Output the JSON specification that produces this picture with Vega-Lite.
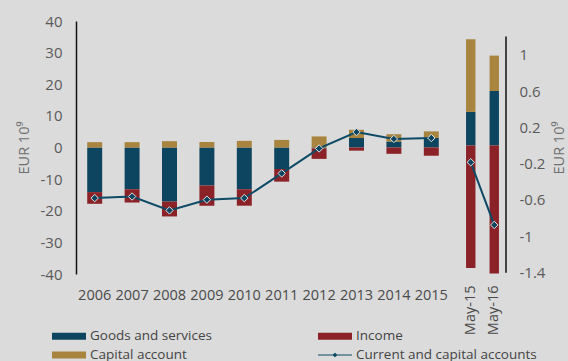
{
  "$schema": "https://vega.github.io/schema/vega-lite/v6.json",
  "background": "#dbdbdb",
  "padding": {"left": 16, "top": 14, "right": 5, "bottom": 0},
  "datasets": {
    "bars_left": [
      {"period": "2006", "series": "Goods and services", "ord": 0, "value": -14.1},
      {"period": "2006", "series": "Income", "ord": 1, "value": -3.7},
      {"period": "2006", "series": "Capital account", "ord": 2, "value": 1.7},
      {"period": "2007", "series": "Goods and services", "ord": 0, "value": -13.2},
      {"period": "2007", "series": "Income", "ord": 1, "value": -4.2},
      {"period": "2007", "series": "Capital account", "ord": 2, "value": 1.7},
      {"period": "2008", "series": "Goods and services", "ord": 0, "value": -17.1},
      {"period": "2008", "series": "Income", "ord": 1, "value": -4.7},
      {"period": "2008", "series": "Capital account", "ord": 2, "value": 2.0},
      {"period": "2009", "series": "Goods and services", "ord": 0, "value": -12.0},
      {"period": "2009", "series": "Income", "ord": 1, "value": -6.4},
      {"period": "2009", "series": "Capital account", "ord": 2, "value": 1.7},
      {"period": "2010", "series": "Goods and services", "ord": 0, "value": -13.2},
      {"period": "2010", "series": "Income", "ord": 1, "value": -5.2},
      {"period": "2010", "series": "Capital account", "ord": 2, "value": 2.1},
      {"period": "2011", "series": "Goods and services", "ord": 0, "value": -6.8},
      {"period": "2011", "series": "Income", "ord": 1, "value": -4.0},
      {"period": "2011", "series": "Capital account", "ord": 2, "value": 2.4},
      {"period": "2012", "series": "Goods and services", "ord": 0, "value": -0.3},
      {"period": "2012", "series": "Income", "ord": 1, "value": -3.3},
      {"period": "2012", "series": "Capital account", "ord": 2, "value": 3.5},
      {"period": "2013", "series": "Goods and services", "ord": 0, "value": 3.0},
      {"period": "2013", "series": "Income", "ord": 1, "value": -1.0},
      {"period": "2013", "series": "Capital account", "ord": 2, "value": 2.6},
      {"period": "2014", "series": "Goods and services", "ord": 0, "value": 1.9},
      {"period": "2014", "series": "Income", "ord": 1, "value": -2.0},
      {"period": "2014", "series": "Capital account", "ord": 2, "value": 2.3},
      {"period": "2015", "series": "Goods and services", "ord": 0, "value": 3.0},
      {"period": "2015", "series": "Income", "ord": 1, "value": -2.6},
      {"period": "2015", "series": "Capital account", "ord": 2, "value": 2.1}
    ],
    "line_left": [
      {"period": "2006", "value": -16.0},
      {"period": "2007", "value": -15.5},
      {"period": "2008", "value": -19.9},
      {"period": "2009", "value": -16.5},
      {"period": "2010", "value": -16.0},
      {"period": "2011", "value": -8.2},
      {"period": "2012", "value": -0.3},
      {"period": "2013", "value": 4.9},
      {"period": "2014", "value": 2.7},
      {"period": "2015", "value": 3.0}
    ],
    "bars_right": [
      {"period": "May-15", "series": "Goods and services", "ord": 0, "value": 0.37},
      {"period": "May-15", "series": "Income", "ord": 1, "value": -1.35},
      {"period": "May-15", "series": "Capital account", "ord": 2, "value": 0.80},
      {"period": "May-16", "series": "Goods and services", "ord": 0, "value": 0.60},
      {"period": "May-16", "series": "Income", "ord": 1, "value": -1.41},
      {"period": "May-16", "series": "Capital account", "ord": 2, "value": 0.39}
    ],
    "line_right": [
      {"period": "May-15", "value": -0.185},
      {"period": "May-16", "value": -0.875}
    ],
    "right_axis_line": [
      {"lo": -1.4, "hi": 1.2}
    ]
  },
  "config": {
    "view": {"stroke": null},
    "font": "Open Sans",
    "axis": {"labelFont": "Open Sans", "titleFont": "Open Sans", "grid": false, "ticks": false, "labelOverlap": false},
    "legend": {
      "orient": "none",
      "legendX": -14,
      "legendY": 308,
      "direction": "horizontal",
      "columns": 2,
      "columnPadding": 105,
      "rowPadding": 5,
      "symbolSize": 196,
      "symbolStrokeWidth": 0,
      "symbolOpacity": 1,
      "labelFont": "Open Sans",
      "labelFontSize": 13.5,
      "labelColor": "#444444",
      "labelOffset": 14,
      "labelLimit": 300
    }
  },
  "spacing": 9,
  "resolve": {"scale": {"y": "independent", "x": "independent", "color": "shared"}},
  "hconcat": [
    {
      "width": 374,
      "height": 253,
      "layer": [
        {
          "data": {"name": "bars_left"},
          "mark": {"type": "bar"},
          "encoding": {
            "x": {"field": "period", "type": "ordinal", "scale": {"paddingInner": 0.6, "paddingOuter": 0.3},
              "axis": {"title": null, "labelAngle": 0, "domain": false, "labelPadding": 14, "labelFontSize": 14.5, "labelColor": "#4a4a4a"}},
            "y": {"field": "value", "type": "quantitative", "stack": "zero", "scale": {"domain": [-40, 40], "nice": false},
              "axis": {"title": "EUR 10⁹", "values": [-40, -30, -20, -10, 0, 10, 20, 30, 40], "tickCount": 12, "labelExpr": "'' + datum.value",
                "labelOverlap": false, "domainColor": "#111111", "domainWidth": 1.5, "labelPadding": 14, "labelFontSize": 15, "labelColor": "#5a5a5a",
                "titleFontSize": 14.5, "titleFontWeight": "normal", "titleColor": "#707070", "titlePadding": 9}},
            "color": {"field": "series", "type": "nominal",
              "scale": {"domain": ["Goods and services", "Income", "Capital account", "Current and capital accounts"],
                "range": ["#0d4560", "#8b2227", "#a8843f", "#0d4a66"]},
              "legend": {"title": null,
                "encode": {"symbols": {"update": {"shape": {"signal": "datum.value === 'Current and capital accounts' ? 'M-2.43,-0.08H-0.3L0,-0.32L0.3,-0.08H2.43V0.08H0.3L0,0.32L-0.3,0.08H-2.43Z' : 'M-2.43,-0.5H2.43V0.5H-2.43Z'"}}}}}},
            "order": {"field": "ord", "type": "quantitative"}
          }
        },
        {
          "mark": {"type": "rule", "color": "#1a1a1a", "strokeWidth": 1.5},
          "encoding": {"y": {"datum": 0}}
        },
        {
          "data": {"name": "line_left"},
          "mark": {"type": "line", "color": "#0d4a66", "strokeWidth": 2,
            "point": {"shape": "diamond", "size": 55, "filled": true, "fill": "#0d4560", "stroke": "#e4e4e4", "strokeWidth": 1}},
          "encoding": {
            "x": {"field": "period", "type": "ordinal"},
            "y": {"field": "value", "type": "quantitative"}
          }
        }
      ]
    },
    {
      "width": 47,
      "height": 253,
      "layer": [
        {
          "data": {"name": "bars_right"},
          "mark": {"type": "bar"},
          "encoding": {
            "x": {"field": "period", "type": "ordinal", "scale": {"paddingInner": 0.6, "paddingOuter": 0.3},
              "axis": {"title": null, "labelAngle": -90, "domain": false, "labelPadding": 11, "labelFontSize": 14.5, "labelColor": "#4a4a4a"}},
            "y": {"field": "value", "type": "quantitative", "stack": "zero", "scale": {"domain": [-1.415, 1.371], "nice": false, "zero": false},
              "axis": {"orient": "right", "title": "EUR 10⁹", "values": [-1.4, -1, -0.6, -0.2, 0.2, 0.6, 1], "tickCount": 10, "labelExpr": "'' + datum.value",
                "domain": false, "labelPadding": 13, "labelFontSize": 15, "labelColor": "#5a5a5a",
                "titleFontSize": 14.5, "titleFontWeight": "normal", "titleColor": "#707070", "titlePadding": 8, "titleAngle": 270, "titleBaseline": "top"}},
            "color": {"field": "series", "type": "nominal"},
            "order": {"field": "ord", "type": "quantitative"}
          }
        },
        {
          "mark": {"type": "rule", "color": "#1a1a1a", "strokeWidth": 1.5},
          "encoding": {"y": {"datum": 0}}
        },
        {
          "data": {"name": "right_axis_line"},
          "mark": {"type": "rule", "color": "#111111", "strokeWidth": 1.5},
          "encoding": {
            "x": {"value": "width"},
            "y": {"field": "lo", "type": "quantitative"},
            "y2": {"field": "hi"}
          }
        },
        {
          "data": {"name": "line_right"},
          "mark": {"type": "line", "color": "#0d4a66", "strokeWidth": 2,
            "point": {"shape": "diamond", "size": 55, "filled": true, "fill": "#0d4560", "stroke": "#e4e4e4", "strokeWidth": 1}},
          "encoding": {
            "x": {"field": "period", "type": "ordinal"},
            "y": {"field": "value", "type": "quantitative"}
          }
        }
      ]
    }
  ]
}
